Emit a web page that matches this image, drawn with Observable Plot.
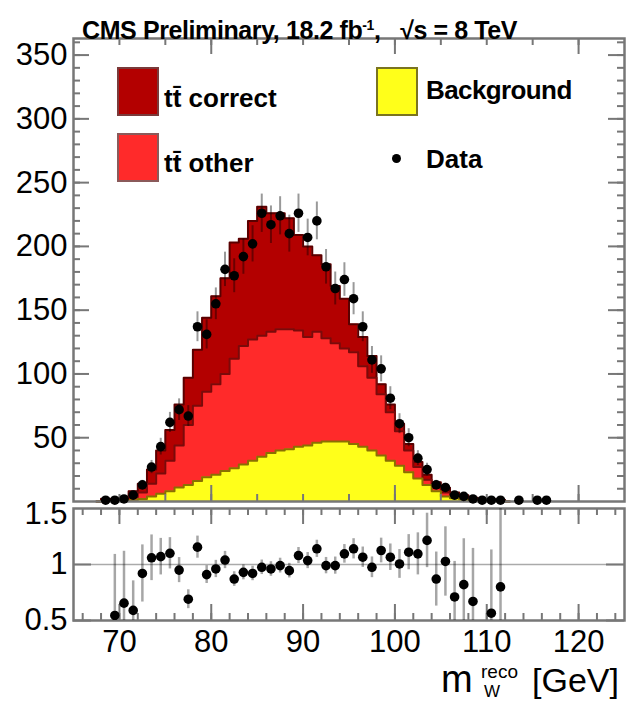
<!DOCTYPE html>
<html><head><meta charset="utf-8">
<script src="https://cdn.jsdelivr.net/npm/d3@7"></script>
<script src="https://cdn.jsdelivr.net/npm/@observablehq/plot@0.6"></script>
<style>
body{margin:0;background:#fff;}
#wrap{position:relative;width:626px;height:701px;overflow:hidden;background:#fff;font-family:"Liberation Sans",Arial,Helvetica,sans-serif;}
.abs{position:absolute;white-space:nowrap;color:#000;}
</style></head><body><div id="wrap"></div>
<script>
// ---------- data (bin centres, GeV) ----------
const mcCenters = [68.5,69.5,70.5,71.5,72.5,73.5,74.5,75.5,76.5,77.5,78.5,79.5,80.5,81.5,82.5,83.5,84.5,85.5,86.5,87.5,88.5,89.5,90.5,91.5,92.5,93.5,94.5,95.5,96.5,97.5,98.5,99.5,100.5,101.5,102.5,103.5,104.5,105.5,106.5,107.5,108.5,109.5,110.5,111.5];
const background = [0.2,0.3,0.5,1,2,4,6,8,11,13,16,19,21,24,26,29,32,35,38,40,41,43,44,46,47,47,47,45,43,40,36,32,28,23,18,13,8,4,2.5,1.5,0.7,0.3,0.2,0.1];
const ttOther = [0.4,0.7,1,2.5,5,10,16,24,33,47,59,67,71,76,86,93,95,95,95,95,94,91,85,87,81,77,73,72,63,57,48,38,27,17,9,4,3,3,2,1.5,1.3,1,0.8,0.6];
const ttCorrect = [1.6,0.8,1.5,4.5,7,11,18,24,32,37,44,58,69,75,91,84,93,101,93,91,87,75,71,60,58,45,39,22,23,17,8,6,6,5,4,4,4,3.7,2.5,1.9,1,0.9,0.8,0.55];

const dataCenters = [68.5,69.5,70.5,71.5,72.5,73.5,74.5,75.5,76.5,77.5,78.5,79.5,80.5,81.5,82.5,83.5,84.5,85.5,86.5,87.5,88.5,89.5,90.5,91.5,92.5,93.5,94.5,95.5,96.5,97.5,98.5,99.5,100.5,101.5,102.5,103.5,104.5,105.5,106.5,107.5,108.5,109.5,110.5,111.5,112.5,113.5,114.5,115.5,116.5];
const dataCounts = [1,1,2,5,13,27,43,62,72,67,137,131,155,182,177,192,202,226,217,224,210,226,207,220,184,167,174,159,137,111,104,81,61,50,34,25,13,11,5,4,2,1,1,1,null,1,null,1,1];

const ratioCenters = [69.5,70.5,71.5,72.5,73.5,74.5,75.5,76.5,77.5,78.5,79.5,80.5,81.5,82.5,83.5,84.5,85.5,86.5,87.5,88.5,89.5,90.5,91.5,92.5,93.5,94.5,95.5,96.5,97.5,98.5,99.5,100.5,101.5,102.5,103.5,104.5,105.5,106.5,107.5,108.5,109.5,110.5,111.5];
const ratioValues = [0.545,0.655,0.59,0.92,1.06,1.07,1.10,0.95,0.69,1.155,0.91,0.96,1.04,0.87,0.93,0.92,0.975,0.96,0.99,0.945,1.08,1.035,1.14,0.99,0.99,1.095,1.14,1.065,0.975,1.125,1.065,1.005,1.11,1.095,1.215,0.87,1.027,0.71,0.82,0.67,null,0.565,0.80];

// ---------- axes / ticks ----------
const xDomain = [65, 125];
const xTickLabels = [70, 80, 90, 100, 110, 120];
const xMinorTicks = d3.range(66, 125, 2);
const topTicks = [70, 75, 80, 85, 90, 95, 100, 105, 110, 115, 120];
const topMajorTicks = [80, 100, 120];
const yMainDomain = [0, 363];
const yMainLabels = [50, 100, 150, 200, 250, 300, 350];
const yMainMinor = d3.range(10, 361, 10);
const yRatioDomain = [0.5, 1.5];
const yRatioTicks = [0.5, 1];
const yRatioTop = [1.5];

// colours
const cCorrect = "#b30000", cOther = "#ff2a2a", cBkg = "#ffff1a";
const frameCol = "#777";
const FONT = "Liberation Sans, Arial, Helvetica, sans-serif";
const LABEL_SIZE = 31;

// ---------- tables built from arrays ----------
function stepRows(vals) {
  const rows = mcCenters.map((x, i) => ({x, y: vals[i]}));
  return [{x: mcCenters[0] - 1, y: 0}, ...rows, {x: mcCenters[mcCenters.length - 1] + 1, y: 0}];
}
const bkgTop = background.slice();
const otherTop = background.map((b, i) => b + ttOther[i]);
const totalTop = otherTop.map((o, i) => o + ttCorrect[i]);
const rowsTotal = stepRows(totalTop), rowsOther = stepRows(otherTop), rowsBkg = stepRows(bkgTop);

const dataRows = dataCenters.map((x, i) => ({x, n: dataCounts[i]})).filter(d => d.n != null && d.n > 0)
  .map(d => ({...d, lo: d.n - Math.sqrt(d.n), hi: d.n + Math.sqrt(d.n)}));
const countAt = new Map(dataRows.map(d => [d.x, d.n]));
const ratioRows = ratioCenters.map((x, i) => ({x, r: ratioValues[i]})).filter(d => d.r != null)
  .map(d => { const e = d.r / Math.sqrt(countAt.get(d.x)); return {...d, lo: d.r - e, hi: d.r + e}; });

// ---------- layout ----------
const W = 626;
const mainH = 505, mT = 38, mB = 4, mL = 73, mR = 2;
const fW = W - mL - mR;
const fHm = mainH - mT - mB;
const ratH = 196, rT = 3, rB = 81;
const fHr = ratH - rT - rB;

const tickStyle = {stroke: frameCol, strokeWidth: 2};

const main = Plot.plot({
  width: W, height: mainH,
  marginTop: mT, marginBottom: mB, marginLeft: mL, marginRight: mR,
  x: {domain: xDomain, axis: null},
  y: {domain: yMainDomain, axis: null},
  style: {overflow: "visible", background: "transparent"},
  marks: [
    Plot.areaY(rowsTotal, {x: "x", y: "y", fill: cCorrect, curve: "step"}),
    Plot.line(rowsTotal, {x: "x", y: "y", stroke: "#5a0000", strokeWidth: 2, curve: "step"}),
    Plot.areaY(rowsOther, {x: "x", y: "y", fill: cOther, curve: "step"}),
    Plot.line(rowsOther, {x: "x", y: "y", stroke: "#7a0a0a", strokeWidth: 2, curve: "step"}),
    Plot.areaY(rowsBkg, {x: "x", y: "y", fill: cBkg, curve: "step"}),
    Plot.line(rowsBkg, {x: "x", y: "y", stroke: "#8a7000", strokeWidth: 2, curve: "step"}),
    // left / right ticks
    Plot.tickY(yMainMinor, {y: d => d, insetRight: fW - 7, ...tickStyle}),
    Plot.tickY(yMainLabels, {y: d => d, insetRight: fW - 16, ...tickStyle}),
    Plot.tickY(yMainMinor, {y: d => d, insetLeft: fW - 7, ...tickStyle}),
    Plot.tickY(yMainLabels, {y: d => d, insetLeft: fW - 16, ...tickStyle}),
    // top / bottom ticks
    Plot.tickX(topTicks, {x: d => d, insetBottom: fHm - 7, ...tickStyle}),
    Plot.tickX(topMajorTicks, {x: d => d, insetBottom: fHm - 16, ...tickStyle}),
    Plot.tickX(topTicks, {x: d => d, insetTop: fHm - 7, ...tickStyle}),
    Plot.tickX(topMajorTicks, {x: d => d, insetTop: fHm - 16, ...tickStyle}),
    Plot.frame({stroke: frameCol, strokeWidth: 2.5}),
    Plot.ruleX(dataRows, {x: "x", y1: "lo", y2: "hi", stroke: "#000", strokeOpacity: 0.4, strokeWidth: 2}),
    Plot.dot(dataRows, {x: "x", y: "n", r: 4.8, fill: "#000", stroke: null}),
    Plot.text(yMainLabels, {y: d => d, text: d => String(d), frameAnchor: "left", textAnchor: "end", dx: -6,
      fontSize: LABEL_SIZE, fontFamily: FONT, fill: "#000"})
  ]
});

const ratio = Plot.plot({
  width: W, height: ratH,
  marginTop: rT, marginBottom: rB, marginLeft: mL, marginRight: mR,
  x: {domain: xDomain, axis: null},
  y: {domain: yRatioDomain, axis: null},
  style: {overflow: "visible", background: "transparent"},
  marks: [
    Plot.ruleY([1], {stroke: "#aaa", strokeWidth: 1.5}),
    Plot.tickX(xMinorTicks, {x: d => d, insetTop: fHr - 7, ...tickStyle}),
    Plot.tickX(xTickLabels, {x: d => d, insetTop: fHr - 16, ...tickStyle}),
    Plot.tickX(xMinorTicks, {x: d => d, insetBottom: fHr - 7, ...tickStyle}),
    Plot.tickX(xTickLabels, {x: d => d, insetBottom: fHr - 16, ...tickStyle}),
    Plot.tickY(yRatioTicks, {y: d => d, insetRight: fW - 18, ...tickStyle}),
    Plot.tickY(yRatioTicks, {y: d => d, insetLeft: fW - 18, ...tickStyle}),
    Plot.frame({stroke: frameCol, strokeWidth: 2.5}),
    Plot.ruleX(ratioRows, {x: "x", y1: "lo", y2: "hi", stroke: "#000", strokeOpacity: 0.35, strokeWidth: 2.5, clip: true}),
    Plot.dot(ratioRows, {x: "x", y: "r", r: 4.8, fill: "#000", stroke: null, clip: true}),
    Plot.text(yRatioTicks, {y: d => d, text: d => String(d), frameAnchor: "left", textAnchor: "end", dx: -6,
      fontSize: LABEL_SIZE, fontFamily: FONT, fill: "#000"}),
    Plot.text(yRatioTop, {y: d => d, text: d => String(d), frameAnchor: "left", textAnchor: "end", dx: -6, dy: 6,
      fontSize: LABEL_SIZE, fontFamily: FONT, fill: "#000"}),
    Plot.text(xTickLabels, {x: d => d, text: d => String(d), frameAnchor: "bottom", dy: 31,
      fontSize: LABEL_SIZE, fontFamily: FONT, fill: "#000"})
  ]
});

const wrap = document.getElementById("wrap");
main.style.position = "absolute"; main.style.left = "0px"; main.style.top = "0px";
ratio.style.position = "absolute"; ratio.style.left = "0px"; ratio.style.top = mainH + "px";
wrap.appendChild(main);
wrap.appendChild(ratio);

// ---------- text overlays (title, legend, axis title) ----------
function addText(txt, left, baseline, size, weight, extra) {
  const d = document.createElement("div");
  d.className = "abs";
  d.style.left = left + "px";
  d.style.top = (baseline - 0.8465 * size) + "px";
  d.style.fontSize = size + "px";
  d.style.lineHeight = size + "px";
  d.style.fontWeight = weight;
  if (extra) Object.assign(d.style, extra);
  d.innerHTML = txt;
  wrap.appendChild(d);
  return d;
}
function addBox(left, top, w, h, fill, border) {
  const d = document.createElement("div");
  d.className = "abs";
  Object.assign(d.style, {left: left + "px", top: top + "px", width: w + "px", height: h + "px",
    background: fill, border: "2px solid " + border, boxSizing: "border-box"});
  wrap.appendChild(d);
}

addText("CMS Preliminary, 18.2 fb<sup style='font-size:14px;vertical-align:9px'>-1</sup>,&nbsp;&nbsp;&nbsp;√s = 8 TeV", 82, 34, 25, "bold", {letterSpacing: "-0.4px"});

addBox(117, 67, 42, 49, cCorrect, "#7a3a3a");
addText("tt̄ correct", 164, 107, 26, "bold");
addBox(117, 133, 42, 49, cOther, "#8a5a5a");
addText("tt̄ other", 164, 172, 26, "bold");
addBox(376, 67, 42, 49, cBkg, "#7a7420");
addText("Background", 426, 99, 26, "bold", {letterSpacing: "-0.6px"});
const dot = document.createElement("div");
dot.className = "abs";
Object.assign(dot.style, {left: "392px", top: "154px", width: "9px", height: "9px", borderRadius: "50%", background: "#000"});
wrap.appendChild(dot);
addText("Data", 426, 168, 26, "bold");

// x-axis title  m_W^reco [GeV]
addText("m", 441, 692, 38, "normal");
addText("reco", 481, 678, 19, "normal");
addText("W", 484, 697, 17, "normal");
addText("[GeV]", 532, 692, 34, "normal");
</script></body></html>
